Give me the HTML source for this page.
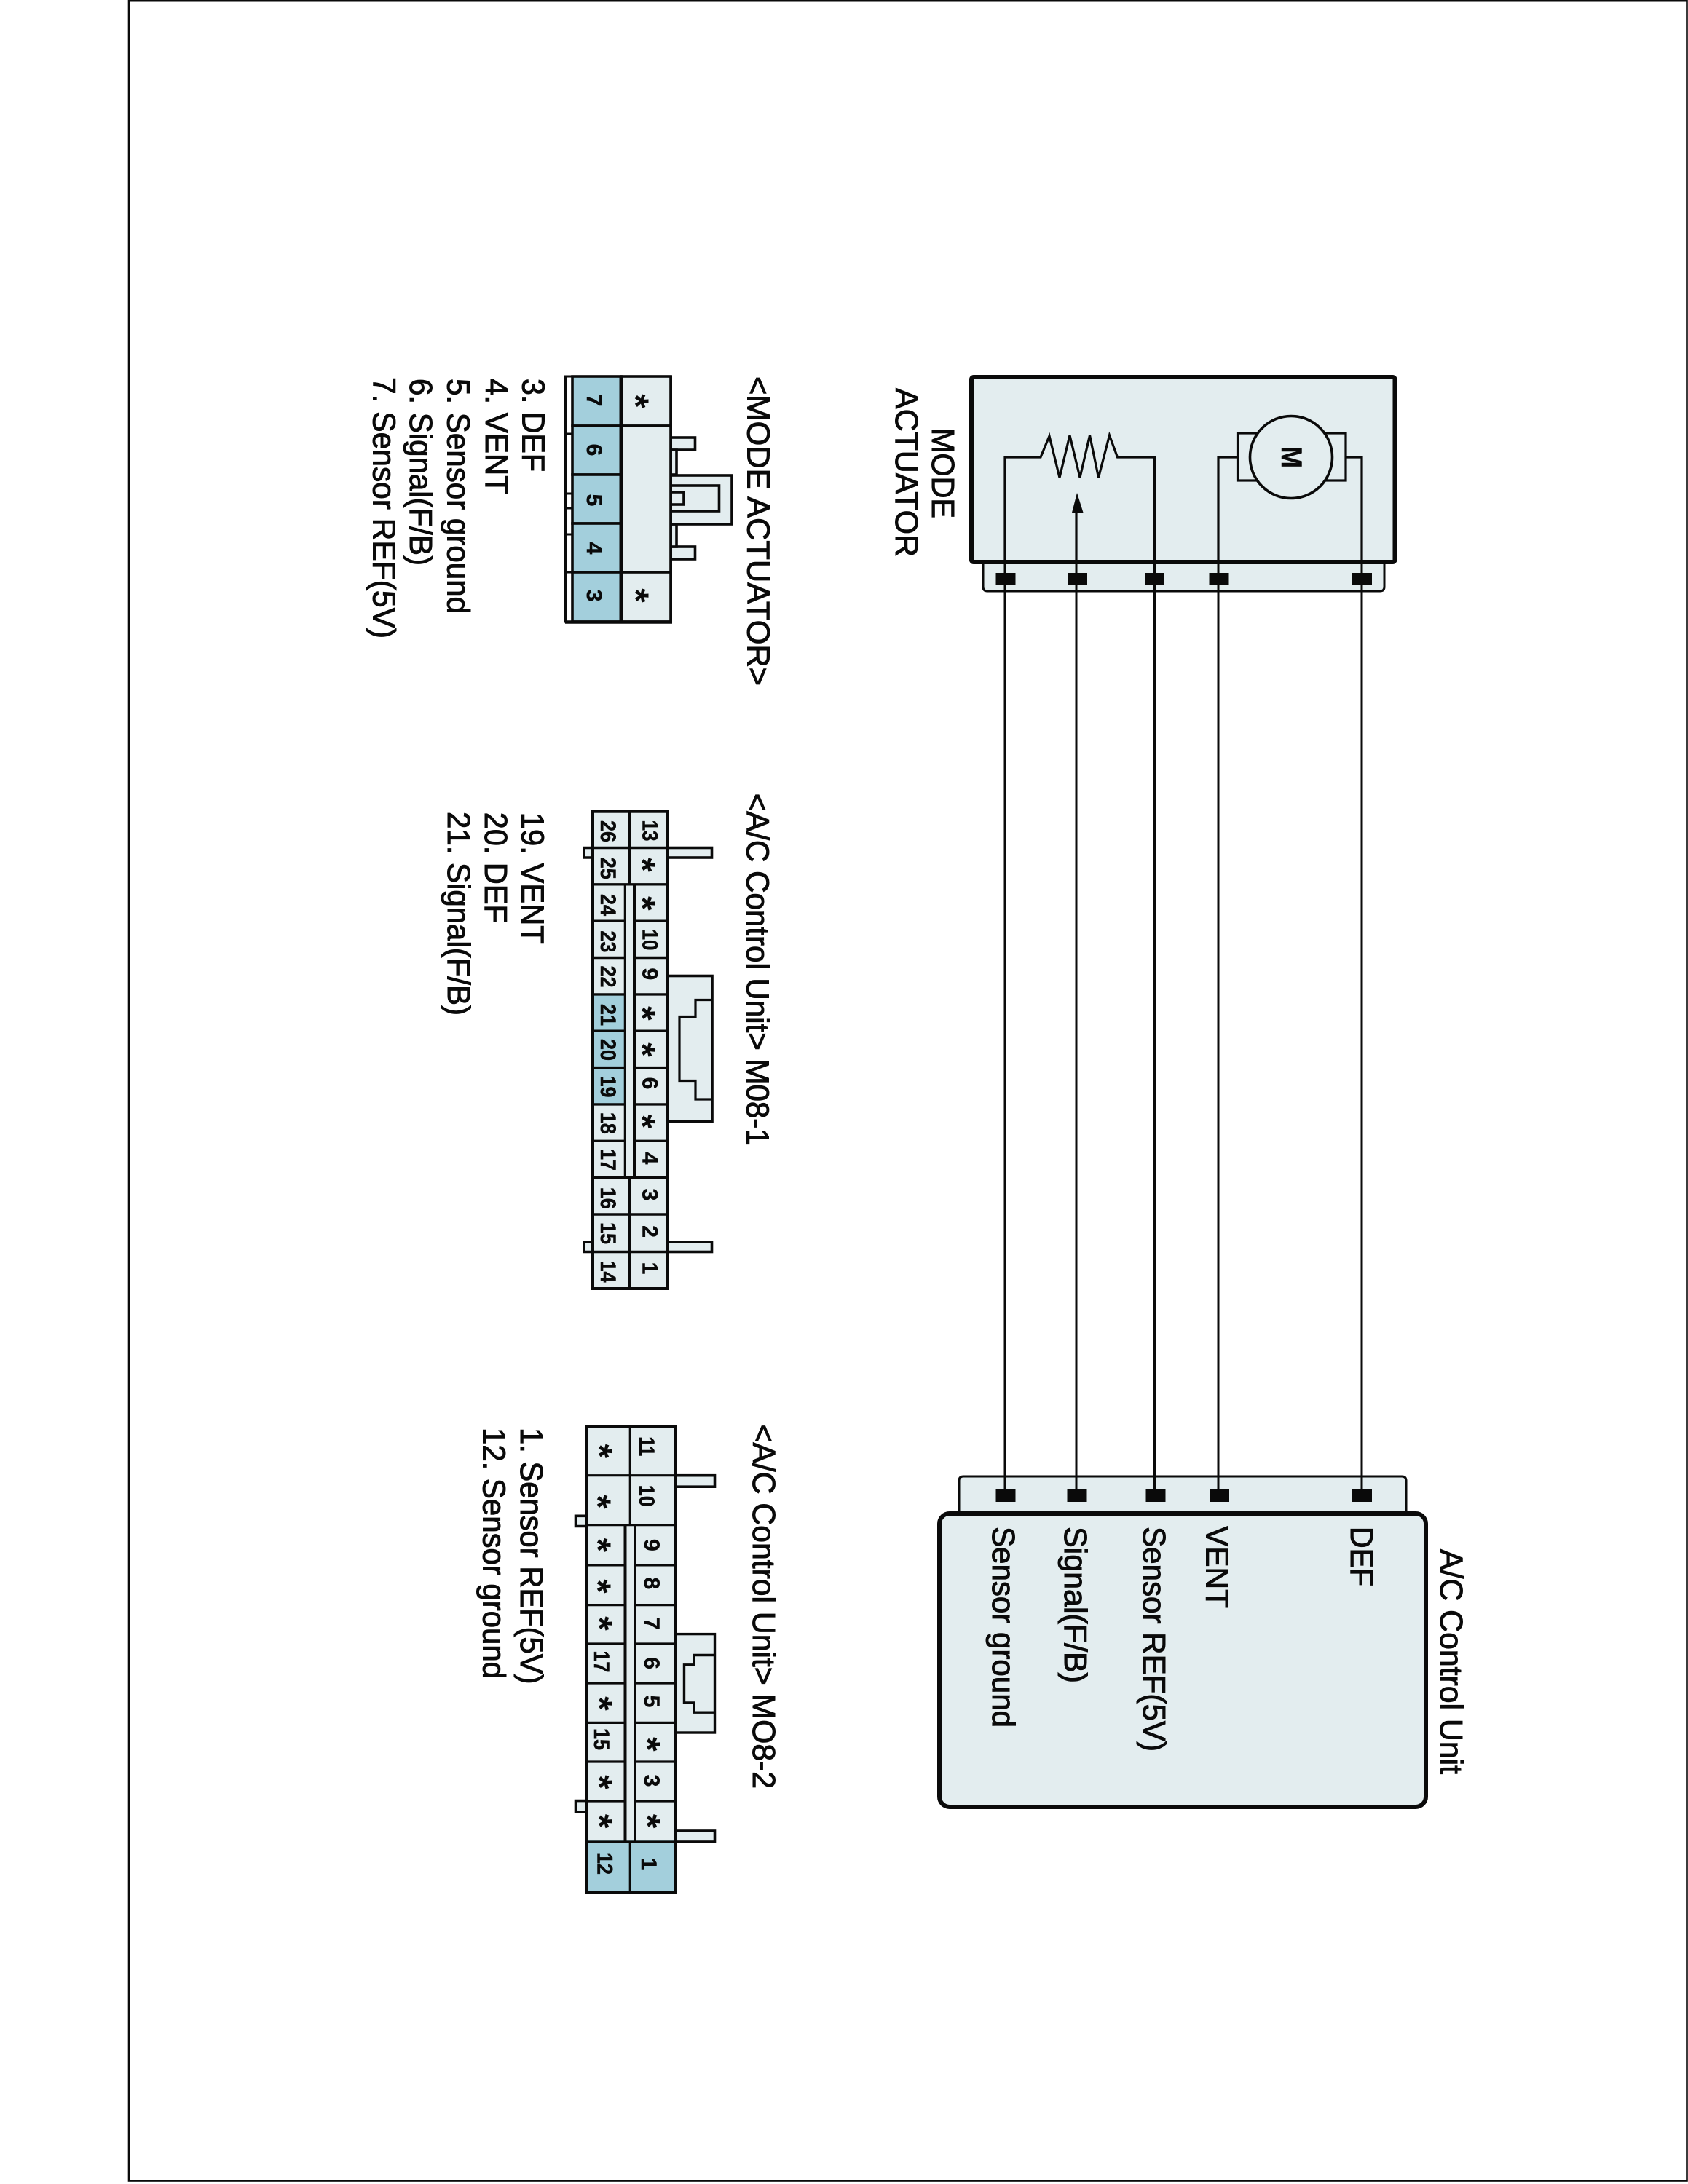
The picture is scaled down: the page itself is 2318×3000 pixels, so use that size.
<!DOCTYPE html>
<html><head><meta charset="utf-8"><title>Mode Actuator Circuit</title>
<style>
html,body{margin:0;padding:0;background:#fff}
svg{display:block}
text{font-family:"Liberation Sans",Arial,sans-serif;fill:#0a0a0a}
.t{font-size:44px;stroke:#0a0a0a;stroke-width:1px}
.b{font-weight:bold;font-size:30px;text-anchor:middle;stroke:#0a0a0a;stroke-width:.5px}
.a{font-weight:bold;font-size:50px;text-anchor:middle}
.f{fill:#e3edef;stroke:#0a0a0a;stroke-width:3.6}
.bl{fill:#a3cfdc;stroke:#0a0a0a;stroke-width:3.6}
.n{fill:none;stroke:#0a0a0a;stroke-width:3.2}
</style></head><body>
<svg xmlns="http://www.w3.org/2000/svg" width="2318" height="3000" viewBox="0 0 2318 3000">
<rect width="2318" height="3000" fill="#fff"/>
<rect x="177" y="1.2" width="2139.5" height="2994.3" fill="none" stroke="#0a0a0a" stroke-width="2.6"/>

<!-- MODE ACTUATOR box -->
<path d="M1350 772V806Q1350 812 1356 812H1895Q1901 812 1901 806V772" fill="#e3edef" stroke="#0a0a0a" stroke-width="3"/>
<rect x="1334" y="518" width="581.5" height="254" rx="3" fill="#e3edef" stroke="#0a0a0a" stroke-width="6"/>
<!-- Motor -->
<rect x="1699.5" y="595" width="148.5" height="65" class="n"/>
<circle cx="1773" cy="628" r="56.5" fill="#e3edef" stroke="#0a0a0a" stroke-width="3.6"/>
<path d="M1673 772V628H1699.5M1870 772V628H1848" class="n"/>
<!-- Resistor -->
<polyline class="n" points="1380,772 1380,628 1429,628 1441,599 1455,656 1469,598 1483,656 1496.5,598 1508.5,656 1523.5,598 1534.5,628 1585.5,628 1585.5,772"/>
<path d="M1478 772V700" class="n"/>
<polygon points="1479,677 1472,704 1487.5,704" fill="#0a0a0a"/>
<g transform="translate(1760,613) rotate(90)"><text class="b" style="font-size:40px;text-anchor:start" textLength="30" lengthAdjust="spacingAndGlyphs">M</text></g>

<!-- A/C unit -->
<path d="M1317 2077V2034Q1317 2028 1323 2028H1925Q1931 2028 1931 2034V2077" fill="#e3edef" stroke="#0a0a0a" stroke-width="3"/>
<rect x="1290" y="2079" width="668" height="403" rx="14" fill="#e3edef" stroke="#0a0a0a" stroke-width="6"/>

<!-- Wires -->
<g stroke="#0a0a0a" stroke-width="3" fill="none">
<path d="M1380 772V2055"/><path d="M1478 772V2055"/><path d="M1585.5 772V2055"/><path d="M1673 772V2055"/><path d="M1870 772V2055"/>
</g>
<g fill="#0a0a0a">
<rect x="1367.5" y="787" width="27" height="17"/><rect x="1466" y="787" width="27" height="17"/><rect x="1572" y="787" width="27" height="17"/><rect x="1660.5" y="787" width="27" height="17"/><rect x="1857" y="787" width="27" height="17"/>
<rect x="1367.5" y="2046" width="27" height="17"/><rect x="1465.5" y="2046" width="27" height="17"/><rect x="1573.5" y="2046" width="27" height="17"/><rect x="1661" y="2046" width="27" height="17"/><rect x="1857" y="2046" width="27" height="17"/>
</g>

<!-- Box labels -->
<g transform="translate(1280,588) rotate(90)"><text class="t" textLength="124" lengthAdjust="spacingAndGlyphs">MODE</text></g>
<g transform="translate(1230,533) rotate(90)"><text class="t" textLength="232" lengthAdjust="spacingAndGlyphs">ACTUATOR</text></g>
<g transform="translate(1978,2128) rotate(90)"><text class="t" textLength="309" lengthAdjust="spacingAndGlyphs">A/C Control Unit</text></g>
<g transform="translate(1855,2097) rotate(90)"><text class="t" textLength="82" lengthAdjust="spacingAndGlyphs">DEF</text></g>
<g transform="translate(1656.5,2096) rotate(90)"><text class="t" textLength="113" lengthAdjust="spacingAndGlyphs">VENT</text></g>
<g transform="translate(1570,2097) rotate(90)"><text class="t" textLength="309" lengthAdjust="spacingAndGlyphs">Sensor REF(5V)</text></g>
<g transform="translate(1462,2097) rotate(90)"><text class="t" textLength="215" lengthAdjust="spacingAndGlyphs">Signal(F/B)</text></g>
<g transform="translate(1363,2097) rotate(90)"><text class="t" textLength="276" lengthAdjust="spacingAndGlyphs">Sensor ground</text></g>

<!-- MODE ACTUATOR connector -->
<rect x="921" y="601" width="33.5" height="17" class="f"/>
<rect x="921" y="751" width="33.5" height="17" class="f"/>
<rect x="921" y="618" width="8" height="34" class="f"/>
<rect x="921" y="720" width="8" height="31" class="f"/>
<rect x="921" y="653" width="84" height="67" class="f"/>
<rect x="921" y="667" width="66.5" height="35" class="f"/>
<rect x="921" y="676" width="18" height="17" class="f"/>
<rect x="853" y="517" width="68" height="68" class="f"/>
<rect x="853" y="585" width="68" height="201" class="f"/>
<rect x="853" y="786" width="68" height="68" class="f"/>
<rect x="777" y="517" width="9" height="337" fill="#fff" stroke="#0a0a0a" stroke-width="3"/>
<path d="M777 596H786M777 678H786M777 698H786M777 734H786M777 786H786" stroke="#0a0a0a" stroke-width="3"/>
<rect x="786" y="517" width="67" height="68" class="bl"/>
<rect x="786" y="585" width="67" height="67" class="bl"/>
<rect x="786" y="652" width="67" height="67" class="bl"/>
<rect x="786" y="719" width="67" height="67" class="bl"/>
<rect x="786" y="786" width="67" height="68" class="bl"/>
<rect x="776.5" y="517" width="145" height="337" fill="none" stroke="#0a0a0a" stroke-width="3"/>
<path d="M776 854.5H923" stroke="#0a0a0a" stroke-width="4.5"/>
<path d="M853 517V855" stroke="#0a0a0a" stroke-width="5"/>
<g transform="translate(806,550) rotate(90)"><text class="b">7</text></g>
<g transform="translate(806,618) rotate(90)"><text class="b">6</text></g>
<g transform="translate(806,687) rotate(90)"><text class="b">5</text></g>
<g transform="translate(806,753) rotate(90)"><text class="b">4</text></g>
<g transform="translate(806,818) rotate(90)"><text class="b">3</text></g>
<g transform="translate(856,551) rotate(90)"><text class="a">*</text></g>
<g transform="translate(856,818) rotate(90)"><text class="a">*</text></g>
<g transform="translate(1026.5,517) rotate(90)"><text class="t" textLength="425" lengthAdjust="spacingAndGlyphs">&lt;MODE ACTUATOR&gt;</text></g>
<g transform="translate(717.5,520) rotate(90)"><text class="t" textLength="128" lengthAdjust="spacingAndGlyphs">3. DEF</text></g>
<g transform="translate(667,520) rotate(90)"><text class="t" textLength="159" lengthAdjust="spacingAndGlyphs">4. VENT</text></g>
<g transform="translate(614.5,520) rotate(90)"><text class="t" textLength="323" lengthAdjust="spacingAndGlyphs">5. Sensor ground</text></g>
<g transform="translate(563,520) rotate(90)"><text class="t" textLength="257" lengthAdjust="spacingAndGlyphs">6. Signal(F/B)</text></g>
<g transform="translate(512.5,518) rotate(90)"><text class="t" textLength="359" lengthAdjust="spacingAndGlyphs">7. Sensor REF(5V)</text></g>

<!-- M08-1 connector -->
<rect x="917" y="1164.5" width="60.5" height="13.5" class="f"/>
<rect x="917" y="1706" width="60.5" height="13.5" class="f"/>
<path d="M813 1164.5H802V1178H813M813 1706H802V1719.5H813" fill="#e3edef" stroke="#0a0a0a" stroke-width="3.6"/>
<rect x="917" y="1340.5" width="61" height="200" class="f"/>
<polyline class="n" points="976,1373.5 955,1373.5 955,1396.5 933,1396.5 933,1484.5 955,1484.5 955,1510 976,1510"/>
<rect x="814" y="1114.7" width="103" height="655.3" fill="#e3edef" stroke="#0a0a0a" stroke-width="4"/>
<rect x="816" y="1365.9" width="42" height="50.3" fill="#a3cfdc"/><rect x="816" y="1416.2" width="42" height="50.4" fill="#a3cfdc"/><rect x="816" y="1466.6" width="42" height="50.3" fill="#a3cfdc"/>
<path d="M814 1164.5H917M814 1214.8H917M814 1265.2H858M873 1265.2H917M814 1315.5H858M873 1315.5H917M814 1365.9H858M873 1365.9H917M814 1416.2H858M873 1416.2H917M814 1466.6H858M873 1466.6H917M814 1516.9H858M873 1516.9H917M814 1567.3H858M873 1567.3H917M814 1617.6H917M814 1668H917M814 1719.5H917" stroke="#0a0a0a" stroke-width="3.4" fill="none"/>
<path d="M865 1114V1214.8M865 1617.6V1770" stroke="#0a0a0a" stroke-width="4" fill="none"/>
<path d="M858 1214.8V1617.6" stroke="#0a0a0a" stroke-width="2.5" fill="none"/>
<path d="M871 1214.8V1617.6" stroke="#0a0a0a" stroke-width="4" fill="none"/>
<g transform="translate(825,1142) rotate(90)"><text class="b" textLength="30" lengthAdjust="spacingAndGlyphs">26</text></g>
<g transform="translate(825,1192.7) rotate(90)"><text class="b" textLength="30" lengthAdjust="spacingAndGlyphs">25</text></g>
<g transform="translate(825,1243) rotate(90)"><text class="b" textLength="30" lengthAdjust="spacingAndGlyphs">24</text></g>
<g transform="translate(825,1293.4) rotate(90)"><text class="b" textLength="30" lengthAdjust="spacingAndGlyphs">23</text></g>
<g transform="translate(825,1341.5) rotate(90)"><text class="b" textLength="30" lengthAdjust="spacingAndGlyphs">22</text></g>
<g transform="translate(825,1394) rotate(90)"><text class="b" textLength="30" lengthAdjust="spacingAndGlyphs">21</text></g>
<g transform="translate(825,1442) rotate(90)"><text class="b" textLength="30" lengthAdjust="spacingAndGlyphs">20</text></g>
<g transform="translate(825,1492.5) rotate(90)"><text class="b" textLength="30" lengthAdjust="spacingAndGlyphs">19</text></g>
<g transform="translate(825,1542.8) rotate(90)"><text class="b" textLength="30" lengthAdjust="spacingAndGlyphs">18</text></g>
<g transform="translate(825,1593) rotate(90)"><text class="b" textLength="30" lengthAdjust="spacingAndGlyphs">17</text></g>
<g transform="translate(825,1645.8) rotate(90)"><text class="b" textLength="30" lengthAdjust="spacingAndGlyphs">16</text></g>
<g transform="translate(825,1694) rotate(90)"><text class="b" textLength="30" lengthAdjust="spacingAndGlyphs">15</text></g>
<g transform="translate(825,1746.5) rotate(90)"><text class="b" textLength="30" lengthAdjust="spacingAndGlyphs">14</text></g>
<g transform="translate(882.5,1141) rotate(90)"><text class="b" textLength="29" lengthAdjust="spacingAndGlyphs">13</text></g>
<g transform="translate(882.5,1291) rotate(90)"><text class="b" textLength="29" lengthAdjust="spacingAndGlyphs">10</text></g>
<g transform="translate(882.5,1337.8) rotate(90)"><text class="b">9</text></g>
<g transform="translate(882.5,1488) rotate(90)"><text class="b">6</text></g>
<g transform="translate(882.5,1591) rotate(90)"><text class="b">4</text></g>
<g transform="translate(882.5,1641) rotate(90)"><text class="b">3</text></g>
<g transform="translate(882.5,1691.6) rotate(90)"><text class="b">2</text></g>
<g transform="translate(882.5,1742) rotate(90)"><text class="b">1</text></g>
<g transform="translate(865,1188) rotate(90)"><text class="a">*</text></g>
<g transform="translate(865,1240.8) rotate(90)"><text class="a">*</text></g>
<g transform="translate(865,1391.8) rotate(90)"><text class="a">*</text></g>
<g transform="translate(865,1442) rotate(90)"><text class="a">*</text></g>
<g transform="translate(865,1540.5) rotate(90)"><text class="a">*</text></g>
<g transform="translate(1025.5,1089.7) rotate(90)"><text class="t" textLength="484" lengthAdjust="spacingAndGlyphs">&lt;A/C Control Unit&gt; M08-1</text></g>
<g transform="translate(716.7,1115.8) rotate(90)"><text class="t" textLength="181" lengthAdjust="spacingAndGlyphs">19. VENT</text></g>
<g transform="translate(666,1115.8) rotate(90)"><text class="t" textLength="152" lengthAdjust="spacingAndGlyphs">20. DEF</text></g>
<g transform="translate(615,1115) rotate(90)"><text class="t" textLength="280" lengthAdjust="spacingAndGlyphs">21. Signal(F/B)</text></g>

<!-- MO8-2 connector -->
<rect x="927" y="2026.7" width="54.5" height="15.5" class="f"/>
<rect x="927" y="2515" width="54.5" height="15" class="f"/>
<path d="M805 2082.3H790.5V2096.5H805M805 2473.6H790.5V2489H805" fill="#e3edef" stroke="#0a0a0a" stroke-width="3.6"/>
<rect x="927" y="2244.6" width="54.5" height="135.4" fill="#e3edef" stroke="#0a0a0a" stroke-width="3.4"/>
<path d="M981.5 2273.5H953V2286.8H939.5V2338.9H953V2352.2H981.5" fill="none" stroke="#0a0a0a" stroke-width="3.4"/>
<rect x="805" y="1960" width="122.5" height="639" fill="#e3edef" stroke="#0a0a0a" stroke-width="4"/>
<rect x="807" y="2528" width="58.5" height="69" fill="#a3cfdc"/><rect x="865.5" y="2528" width="60" height="69" fill="#a3cfdc"/>
<path d="M805 2026.7H927M805 2094.7H927M805 2149.9H857M872 2149.9H927M805 2204.6H857M872 2204.6H927M805 2258H857M872 2258H927M805 2312H857M872 2312H927M805 2366.4H857M872 2366.4H927M805 2420H857M872 2420H927M805 2474H857M872 2474H927M805 2530H927" stroke="#0a0a0a" stroke-width="3.2" fill="none"/>
<path d="M865.3 1960V2094.7M865.3 2530V2599" stroke="#0a0a0a" stroke-width="3.2" fill="none"/>
<path d="M858.5 2094.7V2530" stroke="#0a0a0a" stroke-width="4" fill="none"/>
<path d="M872 2094.7V2530" stroke="#0a0a0a" stroke-width="3.2" fill="none"/>
<g transform="translate(878,1986.7) rotate(90)"><text class="b" textLength="27" lengthAdjust="spacingAndGlyphs">11</text></g>
<g transform="translate(878,2054.7) rotate(90)"><text class="b" textLength="30" lengthAdjust="spacingAndGlyphs">10</text></g>
<g transform="translate(885,2122.3) rotate(90)"><text class="b">9</text></g>
<g transform="translate(885,2174.8) rotate(90)"><text class="b">8</text></g>
<g transform="translate(885,2230.4) rotate(90)"><text class="b">7</text></g>
<g transform="translate(885,2284.6) rotate(90)"><text class="b">6</text></g>
<g transform="translate(885,2337) rotate(90)"><text class="b">5</text></g>
<g transform="translate(885,2446) rotate(90)"><text class="b">3</text></g>
<g transform="translate(881,2560) rotate(90)"><text class="b">1</text></g>
<g transform="translate(816,2282.4) rotate(90)"><text class="b" textLength="30" lengthAdjust="spacingAndGlyphs">17</text></g>
<g transform="translate(816,2389) rotate(90)"><text class="b" textLength="30" lengthAdjust="spacingAndGlyphs">15</text></g>
<g transform="translate(820.5,2560) rotate(90)"><text class="b" textLength="30" lengthAdjust="spacingAndGlyphs">12</text></g>
<g transform="translate(806,1993.4) rotate(90)"><text class="a">*</text></g>
<g transform="translate(804,2063) rotate(90)"><text class="a">*</text></g>
<g transform="translate(804,2122.3) rotate(90)"><text class="a">*</text></g>
<g transform="translate(804,2179) rotate(90)"><text class="a">*</text></g>
<g transform="translate(806,2230) rotate(90)"><text class="a">*</text></g>
<g transform="translate(806,2340) rotate(90)"><text class="a">*</text></g>
<g transform="translate(806,2448) rotate(90)"><text class="a">*</text></g>
<g transform="translate(806,2501.6) rotate(90)"><text class="a">*</text></g>
<g transform="translate(872,2395.8) rotate(90)"><text class="a">*</text></g>
<g transform="translate(872,2501.6) rotate(90)"><text class="a">*</text></g>
<g transform="translate(1034,1956.5) rotate(90)"><text class="t" textLength="500.5" lengthAdjust="spacingAndGlyphs">&lt;A/C Control Unit&gt; MO8-2</text></g>
<g transform="translate(715,1961) rotate(90)"><text class="t" textLength="352.5" lengthAdjust="spacingAndGlyphs">1. Sensor REF(5V)</text></g>
<g transform="translate(663.3,1961) rotate(90)"><text class="t" textLength="345" lengthAdjust="spacingAndGlyphs">12. Sensor ground</text></g>
</svg>
</body></html>
